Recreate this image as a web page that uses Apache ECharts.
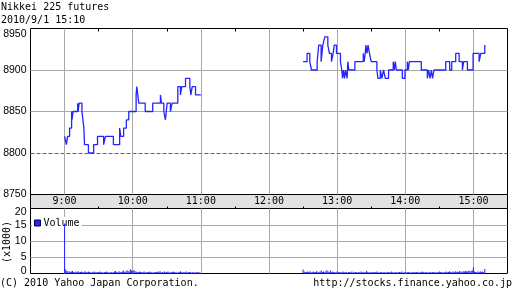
<!DOCTYPE html>
<html><head><meta charset="utf-8">
<script src="https://cdn.jsdelivr.net/npm/echarts@6/dist/echarts.min.js"></script>
<style>html,body{margin:0;padding:0;background:#fff}#c{width:512px;height:301px}</style>
</head><body><div id="c"></div>
<script>
// ---- text ----
const titleText = 'Nikkei 225 futures';
const dateText = '2010/9/1 15:10';
const copyrightText = '(C) 2010 Yahoo Japan Corporation.';
const urlText = 'http://stocks.finance.yahoo.co.jp';
const volUnitText = '(x1000)';
const volName = 'Volume';

// ---- axes (minutes since midnight) ----
const timeMin = 510;   // 8:30
const timeMax = 930;   // 15:30
const hourTicks = [540, 600, 660, 720, 780, 840, 900];
const halfHourTicks = [570, 630, 690, 750, 810, 870];
const priceTicks = [8750, 8800, 8850, 8900, 8950];
const priceGridValues = [8850, 8900];
const refPrice = 8800;
const volTicks = [0, 5, 10, 15, 20];
const volGridValues = [5, 10, 15];

// ---- price data: change events, minutes after 9:00 ----
const sessionStart = 540;
const amTimes = [0, 1.6, 2.6, 4.4, 6.2, 6.6, 7.4, 11.5, 12, 12.8, 15.3, 17, 17.6, 21, 25.6, 29, 34.4, 36, 43, 48.5, 49.5, 52, 54.4, 56.5, 63, 63.6, 64.5, 65.3, 71, 77.6, 84.4, 85.3, 87.4, 88.8, 90.3, 93.2, 94.7, 99.7, 102, 103.2, 106.5, 110.3, 111.2, 112.4, 115.3, 120];
const amPrices = [8820, 8810, 8820, 8830, 8850, 8840, 8850, 8860, 8850, 8860, 8850, 8830, 8810, 8800, 8810, 8820, 8810, 8820, 8810, 8830, 8820, 8830, 8840, 8850, 8870, 8880, 8870, 8860, 8850, 8860, 8870, 8860, 8850, 8840, 8860, 8850, 8860, 8880, 8870, 8880, 8890, 8880, 8870, 8880, 8870, 8870];
const pmTimes = [210, 213.5, 215.9, 217.4, 222.4, 223.8, 225.9, 227.4, 229.1, 231.8, 233.2, 235, 236.5, 237.4, 239.4, 242.9, 244.1, 244.7, 245.6, 246.5, 247.4, 248.8, 249.4, 250.3, 255.6, 263, 263.8, 264.7, 265.3, 266.3, 267.2, 268.5, 270, 275, 275.9, 278, 279.4, 280.9, 282.4, 285.3, 289.4, 290.3, 291.2, 292.1, 297.4, 299.7, 301.8, 302.7, 303.6, 314.1, 319.4, 320.6, 321.8, 323, 324, 325.3, 335.6, 339.1, 340.9, 344.4, 347.4, 350.3, 351.4, 354.7, 359.7, 365, 366.5, 370];
const pmPrices = [8910, 8920, 8910, 8900, 8910, 8930, 8910, 8930, 8940, 8930, 8920, 8910, 8920, 8930, 8920, 8910, 8900, 8890, 8900, 8890, 8900, 8890, 8910, 8900, 8910, 8920, 8910, 8920, 8930, 8920, 8930, 8920, 8910, 8900, 8890, 8900, 8890, 8900, 8890, 8900, 8910, 8900, 8910, 8900, 8890, 8900, 8910, 8900, 8910, 8900, 8890, 8900, 8890, 8900, 8890, 8900, 8910, 8900, 8910, 8920, 8910, 8900, 8910, 8900, 8920, 8910, 8920, 8930];

// ---- volume (x1000), one value per minute ----
const amVolStart = 540;  // 9:00
const amVolume = [15.4, 1.3, 0.8, 0.6, 0.7, 0.5, 0.6, 0.8, 0.5, 0.4,
  0.6, 0.5, 0.7, 0.4, 0.5, 0.6, 0.4, 0.5, 0.7, 0.5,
  0.4, 0.6, 0.5, 0.3, 0.4, 0.5, 0.6, 0.4, 0.3, 0.5,
  0.4, 0.6, 0.5, 0.4, 0.3, 0.5, 0.4, 0.6, 0.4, 0.3,
  0.4, 0.5, 0.3, 0.4, 0.6, 0.8, 0.5, 0.4, 0.7, 0.5,
  0.4, 0.6, 0.9, 0.5, 0.6, 1.0, 0.7, 0.6, 1.3, 0.9,
  0.8, 1.1, 0.7, 0.6, 0.5, 0.4, 0.6, 0.5, 0.4, 0.5,
  0.6, 0.4, 0.3, 0.5, 0.4, 0.6, 0.5, 0.4, 0.3, 0.4,
  0.5, 0.4, 0.6, 0.5, 0.7, 0.4, 0.5, 0.3, 0.6, 0.4,
  0.5, 0.6, 0.4, 0.3, 0.5, 0.4, 0.6, 0.5, 0.4, 0.3,
  0.4, 0.5, 0.7, 0.4, 0.3, 0.5, 0.4, 0.6, 0.3, 0.4,
  0.5, 0.4, 0.3, 0.5, 0.4, 0.3, 0.4, 0.5, 0.3, 0.4];
const pmVolStart = 750;  // 12:30
const pmVolume = [1.2, 0.6, 0.5, 0.4, 0.6, 0.5, 0.7, 0.4, 0.5, 0.6,
  0.4, 0.5, 0.8, 0.4, 0.5, 0.6, 0.9, 0.5, 0.6, 0.4,
  0.7, 1.0, 0.6, 0.5, 1.0, 0.4, 0.6, 0.5, 0.4, 0.5,
  0.6, 0.4, 0.5, 0.3, 0.4, 0.6, 0.5, 0.4, 0.5, 0.3,
  0.4, 0.5, 0.4, 0.6, 0.3, 0.4, 0.5, 0.4, 0.3, 0.5,
  0.4, 0.6, 0.4, 0.5, 0.3, 0.4, 0.8, 0.5, 0.4, 0.3,
  0.5, 0.4, 0.3, 0.5, 0.4, 0.6, 0.4, 0.3, 0.5, 0.4,
  0.3, 0.4, 0.5, 0.3, 0.4, 0.5, 0.4, 0.3, 0.6, 0.4,
  0.3, 0.5, 0.4, 0.3, 0.4, 0.5, 0.4, 0.6, 0.3, 0.4,
  0.5, 0.3, 0.4, 0.5, 0.4, 0.3, 0.4, 0.5, 0.3, 0.4,
  0.5, 0.4, 0.3, 0.5, 0.4, 0.6, 0.4, 0.3, 0.5, 0.4,
  0.3, 0.5, 0.4, 0.3, 0.4, 0.5, 0.4, 0.3, 0.5, 0.4,
  0.6, 0.4, 0.5, 0.3, 0.4, 0.5, 0.6, 0.4, 0.5, 0.7,
  0.5, 0.4, 0.6, 0.5, 0.7, 0.4, 0.6, 0.5, 0.8, 0.6,
  0.5, 0.7, 0.6, 0.8, 0.6, 0.7, 0.9, 0.7, 0.8, 1.0,
  1.9, 0.6, 0.5, 0.4, 0.6, 0.5, 0.7, 0.5, 0.6, 0.4,
  1.4];

// ---- build ----
const MONO = 'DejaVu Sans Mono';
const SANS = 'Liberation Sans';
const BLUE = '#2424ff';
const GRID_GRAY = '#a8a8a8';
const fmtTime = v => Math.floor(v / 60) + ':' + String(v % 60).padStart(2, '0');
const fmtPlain = v => String(v);
const volMax = volTicks[volTicks.length - 1];
const fmtVol = v => v === volMax ? '{dn|' + v + '}' : (v === volTicks[0] ? '{up|' + v + '}' : String(v));

const amData = amTimes.map((t, i) => [sessionStart + t, amPrices[i]]);
const pmData = pmTimes.map((t, i) => [sessionStart + t, pmPrices[i]]);
const volData = amVolume.map((v, i) => [amVolStart + i, v])
  .concat(pmVolume.map((v, i) => [pmVolStart + i, v]));

const baseX = { type: 'value', min: timeMin, max: timeMax,
  axisLine: { show: false }, axisLabel: { show: false },
  axisTick: { show: false }, splitLine: { show: false } };
const labelFont = { fontFamily: SANS, fontSize: 10.5, color: '#000' };

const option = {
  animation: false,
  backgroundColor: '#fff',
  grid: [
    { left: 30.5, right: 4.5, top: 28.5, height: 166, show: true, borderColor: '#000', borderWidth: 1, backgroundColor: '#fff' },
    { left: 30.5, right: 4.5, top: 194.5, height: 14, show: true, borderColor: '#000', borderWidth: 1, backgroundColor: '#e2e2e2' },
    { left: 30.5, right: 4.5, top: 208.5, height: 65, show: true, borderColor: '#000', borderWidth: 1, backgroundColor: '#fff' }
  ],
  xAxis: [
    Object.assign({}, baseX, { gridIndex: 0, position: 'bottom',
      axisTick: { show: false, customValues: hourTicks },
      splitLine: { show: true, lineStyle: { color: GRID_GRAY, width: 1 } } }),
    Object.assign({}, baseX, { gridIndex: 0, position: 'top',
      axisTick: { show: true, inside: true, length: 3, customValues: halfHourTicks, lineStyle: { color: '#000' } } }),
    Object.assign({}, baseX, { gridIndex: 1, position: 'top',
      axisLabel: { show: true, inside: true, margin: 2, customValues: hourTicks, formatter: fmtTime,
        fontFamily: MONO, fontSize: 10, color: '#000' } }),
    Object.assign({}, baseX, { gridIndex: 1, position: 'bottom',
      axisTick: { show: true, inside: true, length: 2, customValues: halfHourTicks, lineStyle: { color: '#000' } } }),
    Object.assign({}, baseX, { gridIndex: 2, position: 'bottom',
      axisTick: { show: false, customValues: hourTicks },
      splitLine: { show: true, lineStyle: { color: GRID_GRAY, width: 1 } } })
  ],
  yAxis: [
    { type: 'value', gridIndex: 0, min: priceTicks[0], max: priceTicks[priceTicks.length - 1],
      axisLine: { show: false },
      axisTick: { show: false, customValues: priceGridValues },
      axisLabel: Object.assign({ show: true, customValues: priceTicks, formatter: fmtPlain, margin: 4,
        verticalAlignMaxLabel: 'top' }, labelFont),
      splitLine: { show: true, lineStyle: { color: GRID_GRAY, width: 1 } } },
    { type: 'value', gridIndex: 1, min: 0, max: 1, show: false },
    { type: 'value', gridIndex: 2, min: volTicks[0], max: volMax,
      axisLine: { show: false },
      axisTick: { show: false, customValues: volGridValues },
      axisLabel: Object.assign({ show: true, customValues: volTicks, formatter: fmtVol, margin: 4,
        rich: { dn: Object.assign({ padding: [8, 0, 0, 0] }, labelFont),
                up: Object.assign({ padding: [0, 0, 5, 0] }, labelFont) } }, labelFont),
      splitLine: { show: true, lineStyle: { color: GRID_GRAY, width: 1 } } },
    { type: 'value', gridIndex: 0, min: priceTicks[0], max: priceTicks[priceTicks.length - 1],
      axisLine: { show: false }, axisLabel: { show: false },
      axisTick: { show: false, customValues: [refPrice] },
      splitLine: { show: true, lineStyle: { color: '#e82828', width: 1, type: [4, 2] } } }
  ],
  legend: {
    data: [volName], left: 32, top: 217, z: 1,
    backgroundColor: '#fff', padding: [1, 2, 1, 2],
    itemWidth: 6, itemHeight: 6, icon: 'rect',
    itemStyle: { borderColor: '#000040', borderWidth: 1 },
    textStyle: { fontFamily: MONO, fontSize: 10, color: '#000', padding: [0, 0, 0, -2] }
  },
  series: [
    { type: 'line', name: 'am', xAxisIndex: 0, yAxisIndex: 0, step: 'end', data: amData,
      symbol: 'none', lineStyle: { color: BLUE, width: 1.3 }, z: 3 },
    { type: 'line', name: 'pm', xAxisIndex: 0, yAxisIndex: 0, step: 'end', data: pmData,
      symbol: 'none', lineStyle: { color: BLUE, width: 1.3 }, z: 3 },
    { type: 'bar', name: volName, xAxisIndex: 4, yAxisIndex: 2, data: volData,
      barWidth: 1, itemStyle: { color: BLUE }, z: 2 }
  ],
  graphic: [
    { type: 'text', left: 1, top: 2, style: { text: titleText, font: '10px "DejaVu Sans Mono"', fill: '#000' } },
    { type: 'text', left: 1, top: 15, style: { text: dateText, font: '10px "DejaVu Sans Mono"', fill: '#000' } },
    { type: 'text', left: 0, top: 278, style: { text: copyrightText, font: '10px "DejaVu Sans Mono"', fill: '#000' } },
    { type: 'text', right: 0, top: 278, style: { text: urlText, font: '10px "DejaVu Sans Mono"', fill: '#000' } },
    { type: 'text', x: 7, y: 242, rotation: Math.PI / 2,
      style: { text: volUnitText, font: '10px "DejaVu Sans Mono"', fill: '#000', align: 'center', verticalAlign: 'middle' } }
  ]
};

const chart = echarts.init(document.getElementById('c'), null, { renderer: 'canvas' });
chart.setOption(option);
</script>
</body></html>
